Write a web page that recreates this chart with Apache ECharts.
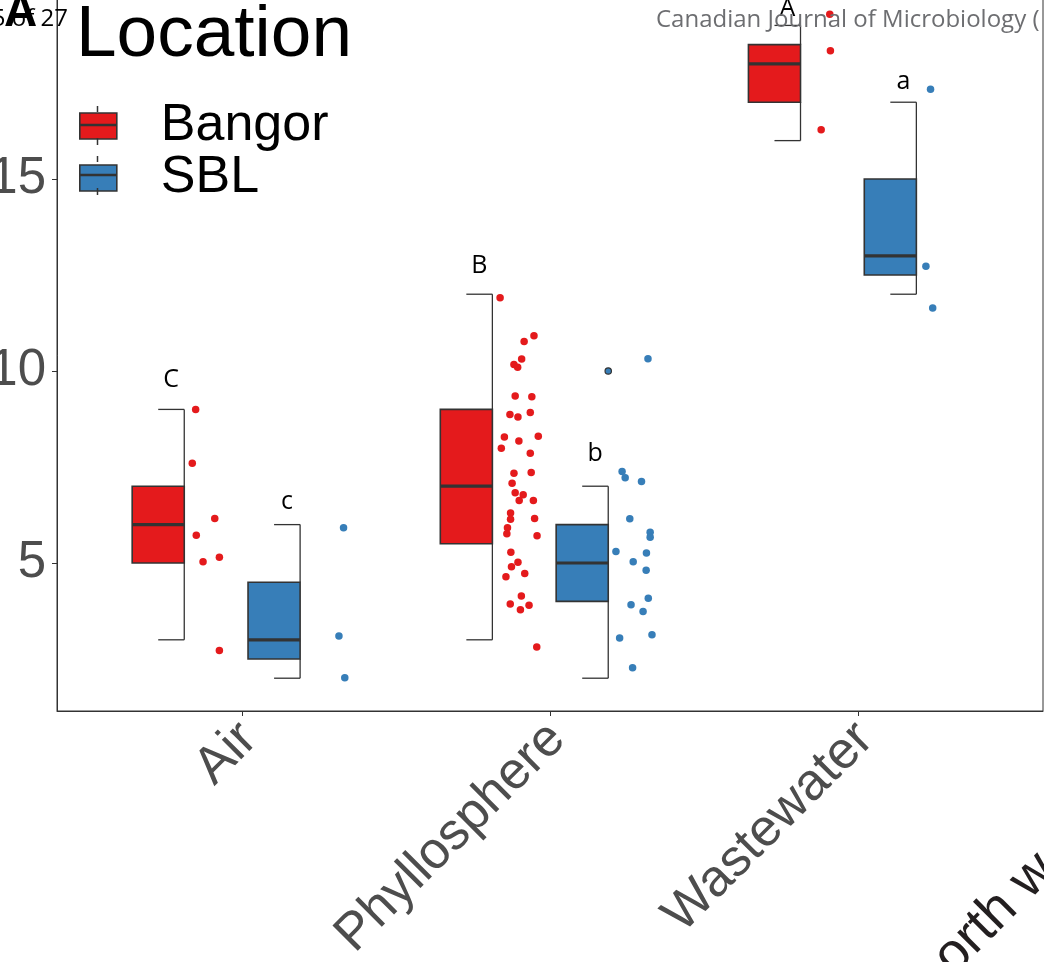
<!DOCTYPE html>
<html>
<head>
<meta charset="utf-8">
<script src="https://cdn.jsdelivr.net/npm/echarts@6/dist/echarts.min.js"></script>
<style>
html,body{margin:0;padding:0;background:#fff;}
#chart{width:1044px;height:962px;}
</style>
</head>
<body>
<div id="chart"></div>
<script>
// ---------- data ----------
const categories = ['Air', 'Phyllosphere', 'Wastewater'];
const groups = ['Bangor', 'SBL'];
const yTicks = [5, 10, 15];

// box statistics per category: [min, q1, median, q3, max]
const bangorStats = [[3, 5, 6, 7, 9], [3, 5.5, 7, 9, 12], [16, 17, 18, 18.5, 19]];
const sblStats = [[2, 2.5, 3, 4.5, 6], [2, 4, 5, 6, 7], [12, 12.5, 13, 15, 17]];
const sblOutliers = [[], [10], []];
const bangorOutliers = [[], [], []];

// significance letters and the value where each is printed
const bangorLetters = ['C', 'B', 'A'];
const sblLetters = ['c', 'b', 'a'];
const bangorLetterY = [9.77, 12.75, 19.43];
const sblLetterY = [6.59, 7.85, 17.54];

// raw observations (values) and their horizontal jitter (in category units)
const airBangorValues = [9.00, 7.60, 6.16, 5.72, 5.15, 5.03, 2.72];
const airBangorJitter = [-0.150, -0.161, -0.088, -0.148, -0.073, -0.126, -0.073];
const airSblValues = [5.92, 3.10, 2.01];
const airSblJitter = [0.330, 0.315, 0.334];
const phylloBangorValues = [11.91, 10.92, 10.77, 10.31, 10.17, 10.10, 9.35, 9.33, 8.87, 8.80, 8.92, 8.28, 8.18, 8.30, 7.99, 7.86, 7.34, 7.36, 7.08, 6.83, 6.78, 6.63, 6.63, 6.30, 6.14, 6.16, 5.92, 5.76, 5.71, 5.28, 5.02, 4.90, 4.73, 4.64, 4.14, 3.93, 3.90, 3.78, 2.81];
const phylloBangorJitter = [-0.162, -0.052, -0.084, -0.092, -0.117, -0.105, -0.113, -0.059, -0.130, -0.104, -0.064, -0.148, -0.101, -0.038, -0.158, -0.064, -0.117, -0.061, -0.123, -0.113, -0.087, -0.100, -0.054, -0.128, -0.128, -0.050, -0.138, -0.140, -0.042, -0.127, -0.104, -0.125, -0.082, -0.143, -0.093, -0.129, -0.068, -0.096, -0.043];
const phylloSblValues = [10.32, 7.38, 7.22, 7.12, 6.15, 5.80, 5.67, 5.30, 5.26, 5.03, 4.81, 4.08, 3.91, 3.74, 3.05, 3.13, 2.27];
const phylloSblJitter = [0.318, 0.234, 0.244, 0.297, 0.259, 0.325, 0.325, 0.214, 0.313, 0.270, 0.312, 0.319, 0.263, 0.302, 0.226, 0.331, 0.268];
const wasteBangorValues = [19.29, 18.34, 16.28];
const wasteBangorJitter = [-0.092, -0.090, -0.120];
const wasteSblValues = [17.34, 12.73, 11.64];
const wasteSblJitter = [0.235, 0.220, 0.242];

// ---------- styling / layout ----------
const COLORS = {Bangor: '#E41A1C', SBL: '#377EB8'};
const DARK = '#333333';
const BOX_W = 0.169;                       // box width in category units
const DODGE = {Bangor: -0.187, SBL: 0.189}; // whisker position relative to category centre
const FONT = 'Liberation Sans, Arial, sans-serif';
const Y_MIN = 1.146, Y_MAX = 19.74;

function pts(values, jitter, catIdx) {
  return values.map((v, i) => [catIdx + 1 + jitter[i], v]);
}
const bangorPoints = [].concat(
  pts(airBangorValues, airBangorJitter, 0),
  pts(phylloBangorValues, phylloBangorJitter, 1),
  pts(wasteBangorValues, wasteBangorJitter, 2));
const sblPoints = [].concat(
  pts(airSblValues, airSblJitter, 0),
  pts(phylloSblValues, phylloSblJitter, 1),
  pts(wasteSblValues, wasteSblJitter, 2));

function boxData(stats, letterY) {
  return stats.map((s, i) => [i + 1].concat(s).concat([letterY[i]]));
}

function makeBoxRenderer(group, letters, outliers) {
  const color = COLORS[group];
  return function (params, api) {
    const x = api.value(0) + DODGE[group];
    const mn = api.value(1), q1 = api.value(2), md = api.value(3), q3 = api.value(4), mx = api.value(5), ly = api.value(6);
    const right = api.coord([x, q1])[0];
    const left = api.coord([x - BOX_W, q1])[0];
    const capL = api.coord([x - BOX_W / 2, q1])[0];
    const yMn = api.coord([x, mn])[1], yQ1 = api.coord([x, q1])[1], yMd = api.coord([x, md])[1];
    const yQ3 = api.coord([x, q3])[1], yMx = api.coord([x, mx])[1];
    const lineStyle = {stroke: DARK, lineWidth: 1.3, fill: null};
    const children = [
      {type: 'line', shape: {x1: right, y1: yMx, x2: right, y2: yQ3}, style: lineStyle},
      {type: 'line', shape: {x1: right, y1: yQ1, x2: right, y2: yMn}, style: lineStyle},
      {type: 'line', shape: {x1: capL, y1: yMx, x2: right, y2: yMx}, style: lineStyle},
      {type: 'line', shape: {x1: capL, y1: yMn, x2: right, y2: yMn}, style: lineStyle},
      {type: 'rect', shape: {x: left, y: yQ3, width: right - left, height: yQ1 - yQ3},
        style: {fill: color, stroke: DARK, lineWidth: 1.6}},
      {type: 'line', shape: {x1: left, y1: yMd, x2: right, y2: yMd}, style: {stroke: DARK, lineWidth: 3.2}},
      {type: 'text', x: (capL + right) / 2, y: api.coord([x, ly])[1],
        style: {text: letters[params.dataIndex], fill: '#000', font: '25px "Open Sans", sans-serif',
          align: 'center', verticalAlign: 'middle'}}
    ];
    (outliers[params.dataIndex] || []).forEach(function (o) {
      const p = api.coord([x, o]);
      children.push({type: 'circle', shape: {cx: p[0], cy: p[1], r: 3.2},
        style: {fill: color, stroke: DARK, lineWidth: 1.2}});
    });
    return {type: 'group', children: children};
  };
}

const chart = echarts.init(document.getElementById('chart'), null, {renderer: 'canvas'});
const option = {
  backgroundColor: '#ffffff',
  animation: false,
  grid: {left: 57, right: 1, top: -3, bottom: 251, show: true, borderColor: DARK, borderWidth: 1,
    containLabel: false, outerBoundsMode: 'none'},
  xAxis: {
    type: 'value', min: 0.4, max: 3.6,
    splitLine: {show: false},
    axisLine: {show: true, onZero: false, lineStyle: {color: DARK, width: 1}},
    axisTick: {show: true, customValues: [1, 2, 3], length: 5, lineStyle: {color: DARK}},
    axisLabel: {
      customValues: [1, 2, 3], rotate: 45, margin: 13, verticalAlign: 'top', lineHeight: 20,
      formatter: function (v) { return categories[Math.round(v) - 1] || ''; },
      fontSize: 52, color: '#4d4d4d', fontFamily: FONT
    }
  },
  yAxis: {
    type: 'value', min: Y_MIN, max: Y_MAX,
    splitLine: {show: false},
    axisLine: {show: true, lineStyle: {color: DARK, width: 1}},
    axisTick: {show: true, customValues: yTicks, length: 5, lineStyle: {color: DARK}},
    axisLabel: {customValues: yTicks, margin: 11, fontSize: 51, color: '#4d4d4d', fontFamily: FONT}
  },
  legend: {
    data: groups, left: 79, top: 100, orient: 'vertical', padding: 0, itemGap: 0,
    icon: 'rect', itemWidth: 37, itemHeight: 26,
    itemStyle: {borderColor: DARK, borderWidth: 1.6},
    textStyle: {fontSize: 52, lineHeight: 50, color: '#000', fontFamily: FONT, padding: [0, 0, 0, 39]},
    selectedMode: false
  },
  title: {
    text: 'Location', left: 76, top: -1, padding: 0,
    textStyle: {fontSize: 73, lineHeight: 73, fontWeight: 'normal', color: '#000', fontFamily: FONT}
  },
  series: [
    {name: 'Bangor', type: 'custom', renderItem: makeBoxRenderer('Bangor', bangorLetters, bangorOutliers),
      data: boxData(bangorStats, bangorLetterY), itemStyle: {color: COLORS.Bangor}, encode: {x: 0, y: [1, 5]}, z: 2},
    {name: 'SBL', type: 'custom', renderItem: makeBoxRenderer('SBL', sblLetters, sblOutliers),
      data: boxData(sblStats, sblLetterY), itemStyle: {color: COLORS.SBL}, encode: {x: 0, y: [1, 5]}, z: 2},
    {name: 'Bangor', type: 'scatter', data: bangorPoints, symbolSize: 7.5,
      itemStyle: {color: COLORS.Bangor, opacity: 1}, z: 3},
    {name: 'SBL', type: 'scatter', data: sblPoints, symbolSize: 7.5,
      itemStyle: {color: COLORS.SBL, opacity: 1}, z: 3}
  ],
  graphic: [
    // legend key whiskers and medians
    {type: 'line', shape: {x1: 97.5, y1: 106, x2: 97.5, y2: 112}, style: {stroke: DARK, lineWidth: 1.5}, z: 100},
    {type: 'line', shape: {x1: 97.5, y1: 138, x2: 97.5, y2: 145}, style: {stroke: DARK, lineWidth: 1.5}, z: 100},
    {type: 'line', shape: {x1: 79, y1: 125, x2: 116, y2: 125}, style: {stroke: DARK, lineWidth: 2.6}, z: 100},
    {type: 'line', shape: {x1: 97.5, y1: 156, x2: 97.5, y2: 162}, style: {stroke: DARK, lineWidth: 1.5}, z: 100},
    {type: 'line', shape: {x1: 97.5, y1: 188, x2: 97.5, y2: 195}, style: {stroke: DARK, lineWidth: 1.5}, z: 100},
    {type: 'line', shape: {x1: 79, y1: 175, x2: 116, y2: 175}, style: {stroke: DARK, lineWidth: 2.6}, z: 100},
    // page artefacts of the source document
    {type: 'text', x: 68, y: 19, z: 100,
      style: {text: '5 of 27', fill: '#000', font: '24px "Open Sans", sans-serif', align: 'right', verticalAlign: 'middle'}},
    {type: 'text', x: 4, y: 13, z: 101,
      style: {text: 'A', fill: '#000', font: 'bold 46px "Liberation Sans", Arial, sans-serif', align: 'left', verticalAlign: 'middle'}},
    {type: 'text', x: 656, y: 20, z: 100,
      style: {text: 'Canadian Journal of Microbiology (', fill: '#6d6e71', font: '24px "Open Sans", sans-serif', align: 'left', verticalAlign: 'middle'}},
    {type: 'text', x: 962, y: 985, rotation: Math.PI / 4, z: 100,
      style: {text: 'orth w', fill: '#231f20', font: '54px "Liberation Sans", Arial, sans-serif', align: 'left', verticalAlign: 'bottom'}}
  ]
};
chart.setOption(option);
</script>
</body>
</html>
